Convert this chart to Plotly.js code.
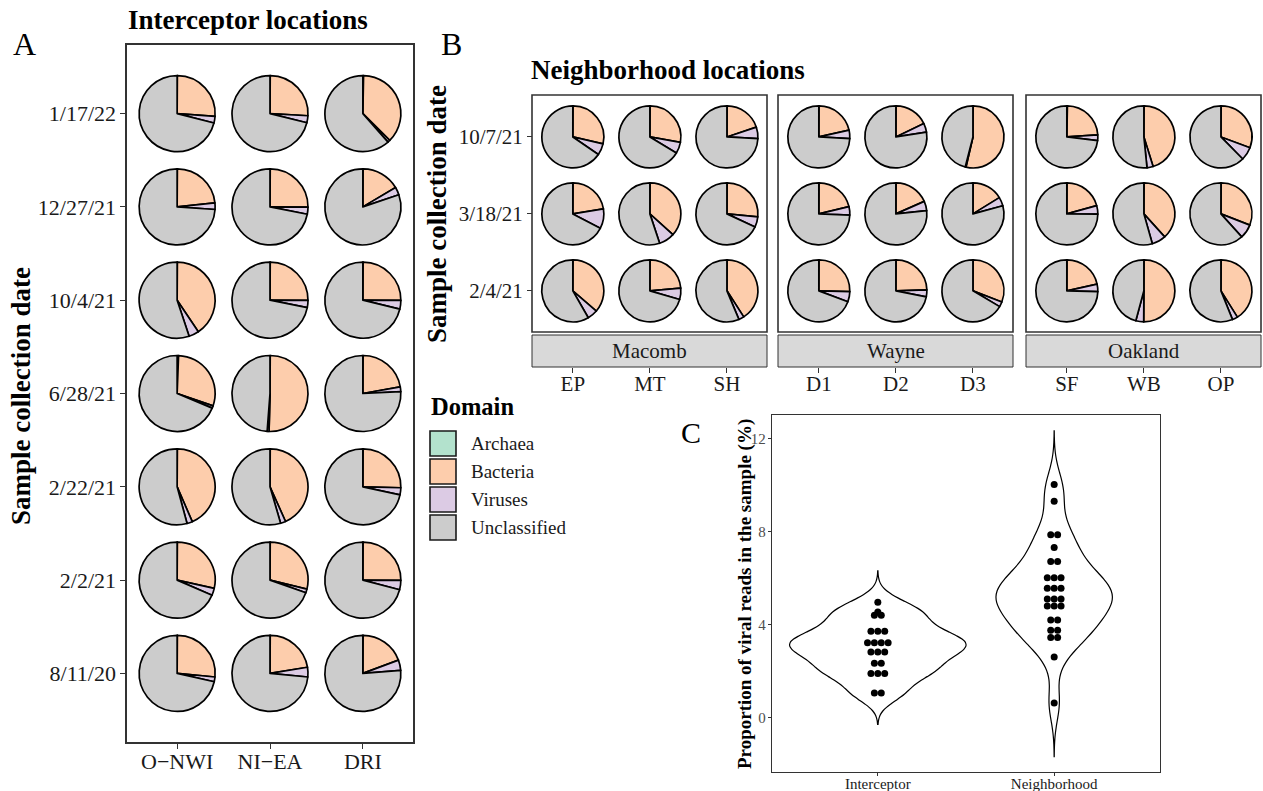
<!DOCTYPE html>
<html><head><meta charset="utf-8">
<script src="https://cdn.plot.ly/plotly-3.0.1.min.js"></script>
<style>html,body{margin:0;padding:0;background:#fff}#chart{width:1263px;height:791px}</style>
</head><body><div id="chart"></div>
<script>
const W = 1263, H = 791;

// ---------- DATA ----------
const domainNames = ['Archaea', 'Bacteria', 'Viruses', 'Unclassified'];
const domainColors = ['#b3e2cd', '#fdcdac', '#dccbe4', '#cccccc'];

// Panel A (rows: dates top -> bottom, columns: sites)
const interceptorSites = ['O\u2212NWI', 'NI\u2212EA', 'DRI'];
const interceptorDates = ['1/17/22', '12/27/21', '10/4/21', '6/28/21', '2/22/21', '2/2/21', '8/11/20'];
const intArchaea = [
  [0.1, 0.1, 0.3], [0.1, 0.1, 0.1], [0.1, 0.1, 0.1], [0.6, 0.1, 0.1],
  [0.1, 0.1, 0.1], [0.1, 0.1, 0.1], [0.1, 0.1, 0.1]
];
const intBacteria = [
  [26.1, 25.8, 37.2], [23.2, 25.0, 16.4], [40.5, 25.0, 25.0], [29.7, 50.3, 22.1],
  [43.4, 43.2, 25.3], [28.4, 28.7, 25.0], [26.4, 22.3, 19.2]
];
const intViruses = [
  [2.8, 3.0, 1.0], [2.8, 3.0, 3.3], [4.3, 3.0, 3.7], [1.0, 0.8, 2.0],
  [2.3, 2.2, 3.0], [3.0, 1.6, 4.0], [2.0, 4.1, 4.4]
];
const intUnclassified = [
  [71.0, 71.1, 61.5], [73.9, 71.9, 80.2], [55.1, 71.9, 71.2], [68.7, 48.8, 75.8],
  [54.2, 54.5, 71.6], [68.5, 69.6, 70.9], [71.5, 73.5, 76.3]
];

// Panel B (rows: dates top -> bottom, columns: sites)
const countyNames = ['Macomb', 'Wayne', 'Oakland'];
const neighborhoodSites = [['EP', 'MT', 'SH'], ['D1', 'D2', 'D3'], ['SF', 'WB', 'OP']];
const neighborhoodDates = ['10/7/21', '3/18/21', '2/4/21'];
const nbArchaea = [
  [0.1, 0.1, 0.1, 0.1, 0.1, 0.1, 0.3, 0.1, 0.1],
  [0.1, 0.1, 0.1, 0.1, 0.1, 0.1, 0.1, 0.1, 0.1],
  [0.1, 0.1, 0.1, 0.1, 0.1, 0.1, 0.1, 0.1, 0.1]
];
const nbBacteria = [
  [28.5, 27.7, 19.8, 21.4, 17.8, 53.5, 23.6, 45.1, 30.6],
  [22.3, 36.6, 26.4, 21.1, 18.3, 16.1, 20.6, 38.2, 30.8],
  [36.2, 23.5, 40.8, 25.3, 24.4, 30.8, 21.4, 50.0, 41.0]
];
const nbViruses = [
  [6.0, 5.9, 6.0, 4.4, 4.6, 0.4, 3.0, 3.2, 6.9],
  [10.3, 8.2, 5.4, 4.4, 4.9, 4.6, 4.4, 7.3, 7.4],
  [5.4, 5.9, 2.8, 5.3, 3.6, 2.6, 3.9, 4.1, 2.8]
];
const nbUnclassified = [
  [65.4, 66.3, 74.1, 74.1, 77.5, 46.0, 73.1, 51.6, 62.4],
  [67.3, 55.1, 68.1, 74.4, 76.7, 79.2, 74.9, 54.4, 61.7],
  [58.3, 70.5, 56.3, 69.3, 71.9, 66.5, 74.6, 45.8, 56.1]
];

// Panel C
const groupNames = ['Interceptor', 'Neighborhood'];
const interceptorViral = [4.97, 4.55, 4.41, 4.41, 3.72, 3.72, 3.72, 3.22, 3.22, 3.22, 3.22,
  2.83, 2.83, 2.83, 2.34, 2.34, 1.90, 1.90, 1.90, 1.06, 1.06];
const neighborhoodViral = [10.04, 9.32, 7.87, 7.87, 7.33, 6.72, 6.72, 6.02, 6.02, 6.02,
  5.57, 5.57, 5.57, 5.11, 5.11, 5.11, 4.81, 4.81, 4.81, 4.20, 4.20, 3.76, 3.76, 3.45, 3.45, 2.61, 0.63];
const yTicksC = [0, 4, 8, 12];

// ---------- GEOMETRY / STYLE ----------
const SERIF = '"Liberation Serif", "Times New Roman", serif';
const fx = x => x / W;
const fy = y => 1 - y / H;

const A = {l: 127, r: 413, t: 45, b: 742, xr: [-0.54, 2.54], yr: [-0.735, 6.735], d: 76};
const B = {ls: [532, 778, 1026], w: 235, t: 95, b: 332, stripT: 335, stripB: 367,
           xr: [-0.53, 2.52], yr: [-0.535, 2.545], d: 62};
const C = {l: 772, r: 1160, t: 415, b: 772, xr: [-0.6, 1.6], yr: [-2.34, 13.03]};

function xToPx(v, l, r, rng) { return l + (v - rng[0]) / (rng[1] - rng[0]) * (r - l); }
function yToPx(v, t, b, rng) { return t + (rng[1] - v) / (rng[1] - rng[0]) * (b - t); }

function pieTrace(vals, cx, cy, d) {
  return {
    type: 'pie', values: vals, labels: domainNames, sort: false, direction: 'clockwise',
    rotation: 0, textinfo: 'none', hoverinfo: 'label+percent', showlegend: false,
    marker: {colors: domainColors, line: {color: '#000', width: 1.7}},
    domain: {x: [fx(cx - d / 2), fx(cx + d / 2)], y: [fy(cy + d / 2), fy(cy - d / 2)]}
  };
}

const traces = [];
// Panel A pies
interceptorDates.forEach((dt, r) => {
  const k = interceptorDates.length - 1 - r;
  const cy = yToPx(k, A.t, A.b, A.yr);
  interceptorSites.forEach((s, c) => {
    const cx = xToPx(c, A.l, A.r, A.xr);
    traces.push(pieTrace([intArchaea[r][c], intBacteria[r][c], intViruses[r][c], intUnclassified[r][c]], cx, cy, A.d));
  });
});
// Panel B pies
neighborhoodDates.forEach((dt, r) => {
  const k = neighborhoodDates.length - 1 - r;
  const cy = yToPx(k, B.t, B.b, B.yr);
  countyNames.forEach((cn, f) => {
    neighborhoodSites[f].forEach((s, c) => {
      const cx = xToPx(c, B.ls[f], B.ls[f] + B.w, B.xr);
      const j = f * 3 + c;
      traces.push(pieTrace([nbArchaea[r][j], nbBacteria[r][j], nbViruses[r][j], nbUnclassified[r][j]], cx, cy, B.d));
    });
  });
});

// axis carriers (empty)
traces.push({type: 'scatter', x: [], y: [], xaxis: 'x2', yaxis: 'y2', hoverinfo: 'skip', showlegend: false});
['x3', 'x4', 'x5'].forEach(xa => traces.push({type: 'scatter', x: [], y: [], xaxis: xa, yaxis: 'y3', hoverinfo: 'skip', showlegend: false}));

// Panel C violins
const bws = [0.45, 0.77];
const widths = [1.0, 0.66];
[interceptorViral, neighborhoodViral].forEach((vals, g) => {
  const mn = Math.min(...vals), mx = Math.max(...vals);
  traces.push({
    type: 'violin', y: vals, x0: g, name: groupNames[g], orientation: 'v',
    bandwidth: bws[g], spanmode: 'manual', span: [mn - 3 * bws[g], mx + 3 * bws[g]],
    width: widths[g], scalemode: 'width', points: false, box: {visible: false}, meanline: {visible: false},
    line: {color: '#000', width: 1.2}, fillcolor: 'rgba(255,255,255,0)', hoveron: 'violins', showlegend: false
  });
});
// dot stacks
const dotSpacing = 0.039;
[interceptorViral, neighborhoodViral].forEach((vals, g) => {
  const counts = {};
  vals.forEach(v => counts[v] = (counts[v] || 0) + 1);
  const seen = {};
  const xs = [], ys = [];
  vals.forEach(v => {
    const i = seen[v] || 0; seen[v] = i + 1;
    xs.push(g + (i - (counts[v] - 1) / 2) * dotSpacing);
    ys.push(v);
  });
  traces.push({type: 'scatter', mode: 'markers', x: xs, y: ys, marker: {color: '#000', size: 7},
    hoverinfo: 'y', showlegend: false});
});

// ---------- LAYOUT ----------
const tickFontA = {family: SERIF, size: 22, color: '#1a1a1a'};
const tickFontB = {family: SERIF, size: 21, color: '#1a1a1a'};
const layout = {
  width: W, height: H, margin: {l: 0, r: 0, t: 0, b: 0},
  paper_bgcolor: '#fff', plot_bgcolor: 'rgba(0,0,0,0)', showlegend: false,
  font: {family: SERIF, color: '#000'},
  violinmode: 'overlay',
  // Panel C axes
  xaxis: {domain: [fx(C.l), fx(C.r)], range: C.xr, tickvals: [0, 1], ticktext: groupNames,
    showgrid: false, zeroline: false, showline: true, mirror: true, linecolor: '#333', linewidth: 1.3,
    ticks: 'outside', ticklen: 3, tickcolor: '#333', ticklabelstandoff: -5,
    tickfont: {family: SERIF, size: 15, color: '#1a1a1a'}, anchor: 'y', fixedrange: true},
  yaxis: {domain: [fy(C.b), fy(C.t)], range: C.yr, tickvals: yTicksC,
    showgrid: false, zeroline: false, showline: true, mirror: true, linecolor: '#333', linewidth: 1.3,
    ticks: 'outside', ticklen: 3, tickcolor: '#333', ticklabelstandoff: -1,
    tickfont: {family: SERIF, size: 15, color: '#4d4d4d'}, anchor: 'x', fixedrange: true},
  // Panel A axes
  xaxis2: {domain: [fx(A.l), fx(A.r)], range: A.xr, tickvals: [0, 1, 2], ticktext: interceptorSites,
    showgrid: false, zeroline: false, showline: true, mirror: true, linecolor: '#333', linewidth: 1.6,
    ticks: 'outside', ticklen: 5, tickcolor: '#333', ticklabelstandoff: -6, tickfont: tickFontA, anchor: 'y2', fixedrange: true},
  yaxis2: {domain: [fy(A.b), fy(A.t)], range: A.yr, tickvals: [0, 1, 2, 3, 4, 5, 6],
    ticktext: interceptorDates.slice().reverse(),
    showgrid: false, zeroline: false, showline: true, mirror: true, linecolor: '#333', linewidth: 1.6,
    ticks: 'outside', ticklen: 5, tickcolor: '#333', tickfont: tickFontA, anchor: 'x2', fixedrange: true},
  // Panel B axes
  yaxis3: {domain: [fy(B.b), fy(B.t)], range: B.yr, tickvals: [0, 1, 2],
    ticktext: neighborhoodDates.slice().reverse(),
    showgrid: false, zeroline: false, showline: false,
    ticks: 'outside', ticklen: 5, tickcolor: '#333', tickfont: tickFontB, anchor: 'free', position: fx(B.ls[0]), fixedrange: true},
  shapes: [], annotations: []
};
['xaxis3', 'xaxis4', 'xaxis5'].forEach((ax, f) => {
  layout[ax] = {domain: [fx(B.ls[f]), fx(B.ls[f] + B.w)], range: B.xr, tickvals: [0, 1, 2],
    ticktext: neighborhoodSites[f], showgrid: false, zeroline: false, showline: false,
    ticks: 'outside', ticklen: 5, tickcolor: '#333', ticklabelstandoff: -7, tickfont: tickFontB,
    anchor: 'free', position: fy(B.stripB), fixedrange: true};
});

// Panel B frames + strips
countyNames.forEach((cn, f) => {
  const l = B.ls[f], r = B.ls[f] + B.w;
  layout.shapes.push({type: 'rect', xref: 'paper', yref: 'paper', x0: fx(l), x1: fx(r), y0: fy(B.b), y1: fy(B.t),
    line: {color: '#333', width: 1.6}, fillcolor: 'rgba(0,0,0,0)', layer: 'above'});
  layout.shapes.push({type: 'rect', xref: 'paper', yref: 'paper', x0: fx(l), x1: fx(r), y0: fy(B.stripB), y1: fy(B.stripT),
    line: {color: '#333', width: 1}, fillcolor: '#d9d9d9', layer: 'below'});
  layout.annotations.push({xref: 'paper', yref: 'paper', x: fx((l + r) / 2), y: fy((B.stripT + B.stripB) / 2),
    text: cn, showarrow: false, xanchor: 'center', yanchor: 'middle', font: {family: SERIF, size: 21, color: '#1a1a1a'}});
});

// Legend (manual, ggplot style)
const legTop = 431, legStep = 28, keyW = 26, keyH = 25;
layout.annotations.push({xref: 'paper', yref: 'paper', x: fx(429), y: fy(407), xanchor: 'left', yanchor: 'middle',
  text: '<b>Domain</b>', showarrow: false, font: {family: SERIF, size: 24.5, color: '#000'}});
domainNames.forEach((nm, i) => {
  const y0 = legTop + i * legStep;
  layout.shapes.push({type: 'rect', xref: 'paper', yref: 'paper', x0: fx(430), x1: fx(430 + keyW),
    y0: fy(y0 + keyH), y1: fy(y0), fillcolor: domainColors[i], line: {color: '#1a1a1a', width: 1.6}});
  layout.annotations.push({xref: 'paper', yref: 'paper', x: fx(469), y: fy(y0 + keyH / 2), xanchor: 'left', yanchor: 'middle',
    text: nm, showarrow: false, font: {family: SERIF, size: 19, color: '#1a1a1a'}});
});

// Titles, panel letters, axis titles
const ann = (x, y, text, size, opts) => layout.annotations.push(Object.assign({xref: 'paper', yref: 'paper', x: fx(x), y: fy(y),
  text: text, showarrow: false, font: {family: SERIF, size: size, color: '#000'}}, opts || {}));
ann(11, 44, 'A', 32, {xanchor: 'left', yanchor: 'middle'});
ann(439, 44, 'B', 32, {xanchor: 'left', yanchor: 'middle'});
ann(679, 432, 'C', 30, {xanchor: 'left', yanchor: 'middle'});
ann(126, 20, '<b>Interceptor locations</b>', 27, {xanchor: 'left', yanchor: 'middle'});
ann(529, 70, '<b>Neighborhood locations</b>', 27, {xanchor: 'left', yanchor: 'middle'});
ann(21, 396, '<b>Sample collection date</b>', 27, {xanchor: 'center', yanchor: 'middle', textangle: -90});
ann(437, 214, '<b>Sample collection date</b>', 27, {xanchor: 'center', yanchor: 'middle', textangle: -90});
ann(745, 594, '<b>Proportion of viral reads in the sample (%)</b>', 19, {xanchor: 'center', yanchor: 'middle', textangle: -90});

Plotly.newPlot('chart', traces, layout, {displayModeBar: false, staticPlot: true});
</script>
</body></html>
